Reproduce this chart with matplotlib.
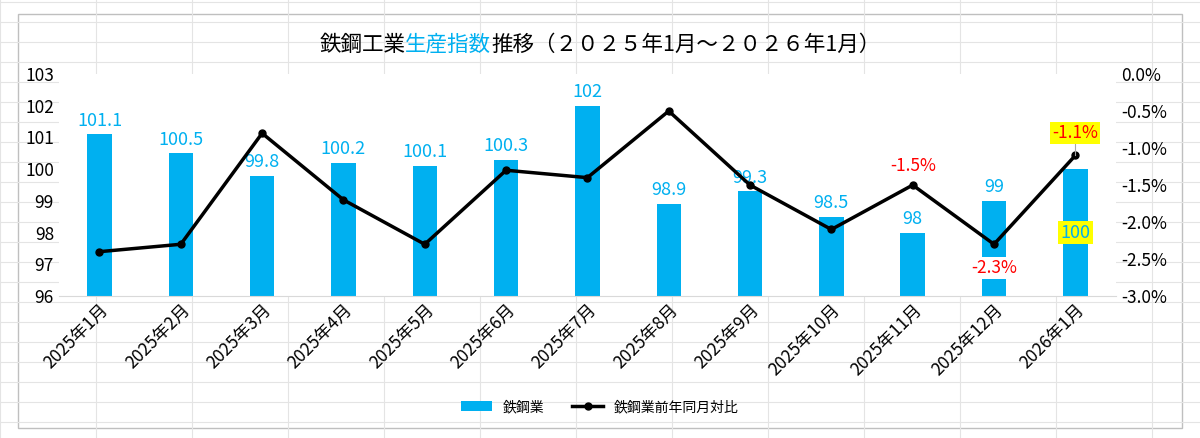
import matplotlib
matplotlib.use("Agg")
import matplotlib.pyplot as plt
from matplotlib.patches import Rectangle

plt.rcParams["font.family"] = ["Noto Sans CJK JP", "DejaVu Sans"]

months = ["2025年1月", "2025年2月", "2025年3月", "2025年4月", "2025年5月", "2025年6月",
          "2025年7月", "2025年8月", "2025年9月", "2025年10月", "2025年11月", "2025年12月", "2026年1月"]
index_vals = [101.1, 100.5, 99.8, 100.2, 100.1, 100.3, 102, 98.9, 99.3, 98.5, 98, 99, 100]
yoy_vals = [-2.4, -2.3, -0.8, -1.7, -2.3, -1.3, -1.4, -0.5, -1.5, -2.1, -1.5, -2.3, -1.1]
bar_labels = ["101.1", "100.5", "99.8", "100.2", "100.1", "100.3", "102", "98.9", "99.3", "98.5", "98", "99", "100"]

blue = "#00b0f0"
fig = plt.figure(figsize=(12, 4.38), dpi=100)

# spreadsheet cell grid behind the chart
bg = fig.add_axes([0, 0, 1, 1], zorder=-5)
bg.set_xlim(0, 1200); bg.set_ylim(438, 0); bg.axis("off")
for x in range(0, 1201, 96):
    bg.axvline(x, color="#e4e4e4", lw=0.8)
for y in range(2, 439, 20):
    bg.axhline(y, color="#e4e4e4", lw=0.8)
bg.add_patch(Rectangle((18, 14), 1164, 414, facecolor="white", edgecolor="#bfbfbf", lw=1))

ax = fig.add_axes([0.049, 0.324, 0.881, 0.507])
x = list(range(len(months)))
ax.bar(x, [v - 96 for v in index_vals], bottom=96, width=0.3, color=blue, label="鉄鋼業")
ax.set_ylim(96, 103)
ax.set_xlim(-0.5, len(months) - 0.5)
ax.set_yticks(range(96, 104))
ax.tick_params(axis="y", length=0, labelsize=12.5)
ax.set_xticks(x)
ax.set_xticklabels(months, rotation=45, ha="right", rotation_mode="anchor", fontsize=12.5)
ax.tick_params(axis="x", length=0)
for s in ["top", "right", "left"]:
    ax.spines[s].set_visible(False)
ax.spines["bottom"].set_color("#d9d9d9")

for i, (v, t) in enumerate(zip(index_vals, bar_labels)):
    if i == 12:
        ax.text(i, 98.0, t, ha="center", va="center", color=blue, fontsize=13,
                bbox=dict(facecolor="#ffff00", edgecolor="none", pad=1.5), zorder=5)
    else:
        ax.text(i, v + 0.15, t, ha="center", va="bottom", color=blue, fontsize=13, zorder=5)

ax2 = ax.twinx()
ax2.plot(x, yoy_vals, "-o", color="black", lw=2.5, ms=5, label="鉄鋼業前年同月対比")
ax2.set_ylim(-3.0, 0.0)
ax2.set_yticks([-3.0, -2.5, -2.0, -1.5, -1.0, -0.5, 0.0])
ax2.set_yticklabels([f"{t:.1f}%" for t in ax2.get_yticks()], fontsize=12.5)
ax2.tick_params(axis="y", length=0)
for s in ["top", "right", "left", "bottom"]:
    ax2.spines[s].set_visible(False)

ax2.text(10, yoy_vals[10] + 0.13, "-1.5%", ha="center", va="bottom", color="red", fontsize=12.5)
ax2.text(11, yoy_vals[11] - 0.2, "-2.3%", ha="center", va="top", color="red", fontsize=12.5,
         bbox=dict(facecolor="white", edgecolor="none", pad=1.5))
ax2.text(12, yoy_vals[12] + 0.3, "-1.1%", ha="center", va="center", color="red", fontsize=12.5,
         bbox=dict(facecolor="#ffff00", edgecolor="none", pad=1.5))
ax2.plot([12, 12], [yoy_vals[12], yoy_vals[12] + 0.22], color="#a6a6a6", lw=0.8)

# title with coloured middle part
parts = [("鉄鋼工業", "black"), ("生産指数", blue), ("推移（２０２５年1月～２０２６年1月）", "black")]
fig.canvas.draw()
r = fig.canvas.get_renderer()
widths = []
for s, c in parts:
    t = fig.text(0, 0, s, fontsize=15.5)
    widths.append(t.get_window_extent(r).width)
    t.remove()
xpos = 600 - sum(widths) / 2
for (s, c), w in zip(parts, widths):
    fig.text(xpos / 1200, (438 - 45) / 438, s, fontsize=15.5, color=c, va="center")
    xpos += w

h1, l1 = ax.get_legend_handles_labels()
h2, l2 = ax2.get_legend_handles_labels()
fig.legend(h1 + h2, l1 + l2, loc="center", bbox_to_anchor=(0.5, (438 - 407) / 438),
           ncol=2, frameon=False, fontsize=10, handlelength=2.2)

fig.savefig("out.png", dpi=100)
